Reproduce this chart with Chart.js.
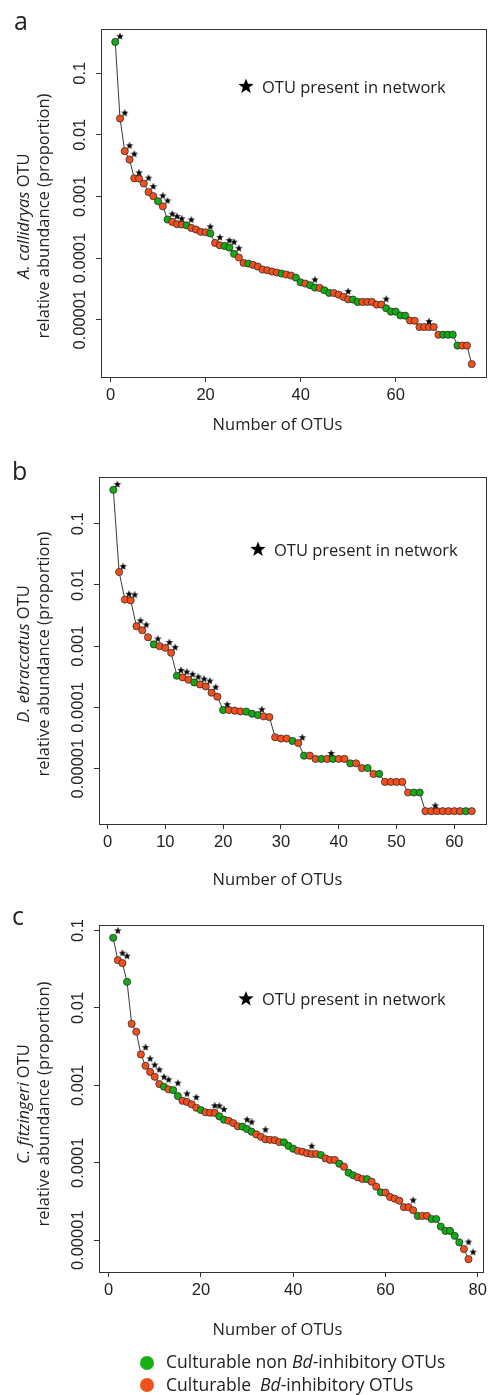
<!DOCTYPE html>
<html>
<head>
<meta charset="utf-8">
<script src="https://cdn.jsdelivr.net/npm/chart.js@4.4.0/dist/chart.umd.min.js"></script>
<style>
  body { margin: 0; background: #fff; width: 491px; height: 1395px; position: relative; overflow: hidden; font-family: "Open Sans", sans-serif; color: #222; }
  canvas { position: absolute; left: 0; }
  .leg { position: absolute; left: 166px; font-size: 17.5px; line-height: 20px; white-space: pre; }
  .dot { position: absolute; width: 14px; height: 14px; border-radius: 50%; left: 140px; }
</style>
</head>
<body>
<canvas id="chartA" width="491" height="440" style="top:0px"></canvas>
<canvas id="chartB" width="491" height="455" style="top:440px"></canvas>
<canvas id="chartC" width="491" height="455" style="top:895px"></canvas>
<span class="dot" style="top:1356px;background:#14b014"></span>
<div class="leg" style="top:1351px">Culturable non <i>Bd</i>-inhibitory OTUs</div>
<span class="dot" style="top:1378px;background:#f0501e"></span>
<div class="leg" style="top:1374px">Culturable  <i>Bd</i>-inhibitory OTUs</div>
<script>
const GREEN = '#14aa14';
const ORANGE = '#f0501e';

// x tick marks for each panel
const xTicksA = [0, 20, 40, 60];
const xTicksB = [0, 10, 20, 30, 40, 50, 60];
const xTicksC = [0, 20, 40, 60, 80];
const yTickValues = [0.1, 0.01, 0.001, 0.0001, 0.00001];
const yTickLabels = ['0.1', '0.01', '0.001', '0.0001', '0.00001'];
const xTitle = 'Number of OTUs';
const yTitle2 = 'relative abundance (proportion)';
const legendText = 'OTU present in network';

// A. callidryas: relative abundance by rank
const valuesA = [0.322, 0.0184, 0.00542, 0.00397, 0.00197, 0.00195, 0.00162, 0.00118, 0.00101, 0.000835,
  0.000693, 0.000422, 0.000386, 0.000354, 0.00035, 0.00034, 0.000308, 0.00029, 0.000266, 0.000262,
  0.00025, 0.000176, 0.000161, 0.000157, 0.000148, 0.000117, 0.000102, 0.0000832, 0.0000814, 0.0000773,
  0.0000728, 0.000065, 0.0000634, 0.0000604, 0.0000582, 0.000056, 0.000054, 0.000052, 0.0000482, 0.0000404,
  0.0000385, 0.0000362, 0.0000332, 0.0000327, 0.00003, 0.0000272, 0.000027, 0.0000255, 0.0000234, 0.0000214,
  0.0000212, 0.0000194, 0.0000194, 0.0000194, 0.0000194, 0.0000176, 0.0000176, 0.0000153, 0.0000135, 0.0000135,
  0.0000117, 0.0000116, 0.0000097, 0.0000096, 0.0000076, 0.0000076, 0.0000076, 0.0000076, 0.0000057, 0.0000057,
  0.0000057, 0.0000057, 0.0000038, 0.0000038, 0.0000038, 0.0000019];
// G = culturable non Bd-inhibitory, O = culturable Bd-inhibitory
const groupA = 'GOOOOOOOOGOGOOOGOOOOGOOGGGOOGOOOOOOGOOGGOGGOGGOOOOGGOOOOOGGGGGOOOOOOOGGGGOOO'.split('');
const starsA = [1, 2, 3, 4, 5, 7, 8, 10, 11, 12, 13, 14, 16, 20, 22, 24, 25, 26, 42, 49, 57, 66];

// D. ebraccatus
const valuesB = [0.358, 0.0163, 0.00577, 0.00562, 0.00212, 0.00182, 0.0014, 0.00107, 0.001, 0.00094,
  0.00078, 0.000329, 0.000309, 0.000283, 0.000256, 0.000237, 0.00022, 0.000174, 0.00015, 0.0000906,
  0.0000906, 0.0000885, 0.000086, 0.0000853, 0.000079, 0.000075, 0.0000714, 0.0000696, 0.0000325, 0.000031,
  0.000031, 0.0000283, 0.0000262, 0.0000163, 0.0000163, 0.0000144, 0.0000144, 0.0000144, 0.0000144, 0.0000144,
  0.0000144, 0.0000122, 0.0000122, 0.0000102, 0.0000102, 0.0000082, 0.0000082, 0.00000607, 0.00000607, 0.00000607,
  0.00000607, 0.00000407, 0.00000407, 0.00000407, 0.00000202, 0.00000202, 0.00000202, 0.00000202, 0.00000202, 0.00000202,
  0.00000202, 0.00000202, 0.00000202];
const groupB = 'GOOOOOOGOOOGOOGOOOOGOOOGGGOOOOOGOGOOGOGOOGOOGOGOOOOOGGOOOOOOOGO'.split('');
const starsB = [1, 2, 3, 4, 5, 6, 8, 10, 11, 12, 13, 14, 15, 16, 17, 18, 20, 26, 33, 38, 56];

// C. fitzingeri
const valuesC = [0.0803, 0.0414, 0.0379, 0.0217, 0.00624, 0.00492, 0.00251, 0.00179, 0.00149, 0.00129,
  0.00104, 0.00096, 0.000888, 0.000869, 0.000727, 0.000632, 0.00061, 0.000569, 0.000514, 0.00048,
  0.000448, 0.000443, 0.00044, 0.000398, 0.00036, 0.000349, 0.000326, 0.000296, 0.000293, 0.000273,
  0.000252, 0.000233, 0.000217, 0.000201, 0.000198, 0.000196, 0.000185, 0.000184, 0.000165, 0.000152,
  0.000143, 0.000139, 0.000133, 0.00013, 0.00013, 0.000126, 0.000114, 0.000109, 0.000109, 0.0000973,
  0.0000891, 0.0000745, 0.000069, 0.000065, 0.0000618, 0.0000616, 0.000057, 0.0000492, 0.0000416, 0.0000413,
  0.0000362, 0.0000344, 0.0000324, 0.0000267, 0.0000267, 0.0000244, 0.0000206, 0.0000206, 0.0000206, 0.0000188,
  0.0000188, 0.000015, 0.0000132, 0.0000132, 0.0000114, 0.0000094, 0.0000077, 0.0000057];
const groupC = 'GOOGOOOOOOOGOGGOOOOGOOOGGOOOGGGOOOOOOGGGOOOOOGOOOGOGGOOGOOGOOOOOOOGOOGGGGGGGOO'.split('');
const starsC = [1, 2, 3, 7, 8, 9, 10, 11, 12, 14, 16, 18, 22, 23, 24, 29, 30, 33, 43, 65, 77, 78];

function starPath(g, cx, cy, r) {
  g.beginPath();
  for (let k = 0; k < 10; k++) {
    const rad = k % 2 ? r * 0.42 : r;
    const ang = -Math.PI / 2 + k * Math.PI / 5;
    g.lineTo(cx + rad * Math.cos(ang), cy + rad * Math.sin(ang));
  }
  g.closePath();
}

function starCanvas(r) {
  const c = document.createElement('canvas');
  const s = Math.ceil(r * 2 + 2);
  c.width = s; c.height = s;
  const g = c.getContext('2d');
  starPath(g, s / 2, s / 2 + 0.5, r);
  g.fillStyle = '#000';
  g.fill();
  return c;
}
const starImg = starCanvas(4);

function drawRotated(ctx, segs, cx, cy) {
  ctx.save();
  ctx.translate(cx, cy);
  ctx.rotate(-Math.PI / 2);
  ctx.textAlign = 'left';
  ctx.textBaseline = 'middle';
  let total = 0;
  const fonts = segs.map(s => (s[1] ? 'italic ' : '') + '16.5px "Open Sans"');
  segs.forEach((s, i) => { ctx.font = fonts[i]; total += ctx.measureText(s[0]).width; });
  let x = -total / 2;
  segs.forEach((s, i) => { ctx.font = fonts[i]; ctx.fillText(s[0], x, 0); x += ctx.measureText(s[0]).width; });
  ctx.restore();
}

function panelPlugin(p) {
  return {
    id: 'panel' + p.letter,
    afterDraw(chart) {
      const ctx = chart.ctx, a = chart.chartArea, ys = chart.scales.y;
      ctx.save();
      ctx.strokeStyle = '#333';
      ctx.lineWidth = 1;
      ctx.strokeRect(Math.round(a.left) + 0.5, Math.round(a.top) + 0.5, Math.round(a.right - a.left), Math.round(a.bottom - a.top));
      ctx.fillStyle = '#222';
      ctx.font = '16.5px "Liberation Sans"';
      ctx.textAlign = 'center';
      ctx.textBaseline = 'middle';
      yTickValues.forEach((v, i) => {
        const y = ys.getPixelForValue(v);
        ctx.save();
        ctx.translate(a.left - 21, y);
        ctx.rotate(-Math.PI / 2);
        ctx.fillText(yTickLabels[i], 0, 0);
        ctx.restore();
      });
      drawRotated(ctx, p.yTitle, 24, p.yTitleY);
      drawRotated(ctx, [[yTitle2, false]], 44, p.yTitleY);
      ctx.font = '16.5px "Open Sans"';
      ctx.textAlign = 'center';
      ctx.textBaseline = 'alphabetic';
      ctx.fillText(xTitle, 277.5, p.xTitleBase);
      ctx.font = '25px "Open Sans"';
      ctx.textAlign = 'left';
      ctx.fillText(p.letter, p.letterX, p.letterBase);
      // in-plot key
      starPath(ctx, p.keyX, p.keyBase - 6, 8);
      ctx.fillStyle = '#000';
      ctx.fill();
      ctx.fillStyle = '#222';
      ctx.font = '16.5px "Open Sans"';
      ctx.fillText(legendText, p.keyX + 16, p.keyBase);
      ctx.restore();
    }
  };
}

function buildChart(id, p) {
  const canvas = document.getElementById(id);
  const W = canvas.width, H = canvas.height;
  const n = p.values.length;
  const pad = 0.04 * (n - 1);
  const logs = p.values.map(v => Math.log10(v));
  const lo = Math.min(...logs), hi = Math.max(...logs);
  const lpad = 0.04 * (hi - lo);
  const pts = p.values.map((v, i) => ({ x: i + 1, y: v }));
  const stars = p.stars.map(k => ({ x: k + p.starDx, y: p.values[k - 1] * 1.25 }));
  const tickFont = { family: 'Liberation Sans', size: 16.5 };

  return new Chart(canvas, {
    type: 'line',
    data: {
      datasets: [
        { data: stars, showLine: false, pointStyle: starImg, pointRadius: 4, order: 0 },
        {
          data: pts,
          borderColor: '#222',
          borderWidth: 0.9,
          tension: 0,
          pointRadius: 3.6,
          pointBackgroundColor: p.groups.map(g => g === 'G' ? GREEN : ORANGE),
          pointBorderColor: '#222',
          pointBorderWidth: 0.7,
          order: 1
        }
      ]
    },
    options: {
      responsive: false,
      animation: false,
      events: [],
      layout: { padding: { top: p.box.top, right: W - p.box.right, left: 0, bottom: 0 } },
      plugins: { legend: { display: false }, tooltip: { enabled: false } },
      scales: {
        x: {
          type: 'linear',
          min: 1 - pad,
          max: n + pad,
          ticks: { font: tickFont, color: '#222', padding: 4, maxRotation: 0 },
          grid: { drawOnChartArea: false, tickLength: 5, color: '#333' },
          border: { display: false },
          afterBuildTicks(s) { s.ticks = p.xTicks.map(v => ({ value: v })); },
          afterFit(s) { s.height = H - p.box.bottom; }
        },
        y: {
          type: 'logarithmic',
          min: Math.pow(10, lo - lpad),
          max: Math.pow(10, hi + lpad),
          ticks: { display: false },
          grid: { drawOnChartArea: false, tickLength: 5, color: '#333' },
          border: { display: false },
          afterBuildTicks(s) { s.ticks = yTickValues.map(v => ({ value: v })); },
          afterFit(s) { s.width = p.box.left; }
        }
      }
    },
    plugins: [panelPlugin(p)]
  });
}

buildChart('chartA', {
  values: valuesA, groups: groupA, stars: starsA, xTicks: xTicksA, starDx: 1.0,
  box: { left: 101, top: 29, right: 489, bottom: 377 },
  letter: 'a', letterX: 14, letterBase: 30,
  yTitle: [['A. callidryas', true], [' OTU', false]], yTitleY: 216,
  xTitleBase: 430, keyX: 246, keyBase: 92.5
});
buildChart('chartB', {
  values: valuesB, groups: groupB, stars: starsB, xTicks: xTicksB, starDx: 0.7,
  box: { left: 99, top: 37, right: 487, bottom: 384 },
  letter: 'b', letterX: 12, letterBase: 40,
  yTitle: [['D. ebraccatus', true], [' OTU', false]], yTitleY: 214,
  xTitleBase: 445, keyX: 258, keyBase: 115.5
});
buildChart('chartC', {
  values: valuesC, groups: groupC, stars: starsC, xTicks: xTicksC, starDx: 1.0,
  box: { left: 99, top: 30, right: 485, bottom: 377 },
  letter: 'c', letterX: 12, letterBase: 30,
  yTitle: [['C. fitzingeri', true], [' OTU', false]], yTitleY: 209,
  xTitleBase: 440, keyX: 246, keyBase: 110
});
</script>
</body>
</html>
